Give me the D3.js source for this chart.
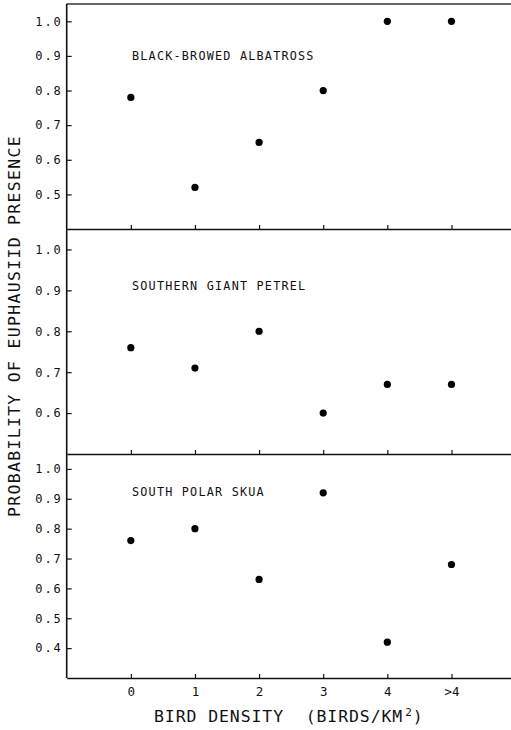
<!DOCTYPE html>
<html>
<head>
<meta charset="utf-8">
<script src="https://cdn.jsdelivr.net/npm/d3@7"></script>
<style>
  html, body { margin: 0; padding: 0; background: #fff; }
  svg { display: block; }
</style>
</head>
<body>
<svg id="chart" width="511" height="730"></svg>
<script>
// ---- data ----
const categories = ["0", "1", "2", "3", "4", ">4"];
const albatross = [0.78, 0.52, 0.65, 0.80, 1.00, 1.00];
const petrel    = [0.76, 0.71, 0.80, 0.60, 0.67, 0.67];
const skua      = [0.76, 0.80, 0.63, 0.92, 0.42, 0.68];
const albatrossTicks = [0.5, 0.6, 0.7, 0.8, 0.9, 1.0];
const petrelTicks    = [0.6, 0.7, 0.8, 0.9, 1.0];
const skuaTicks      = [0.4, 0.5, 0.6, 0.7, 0.8, 0.9, 1.0];
const speciesNames = ["BLACK-BROWED ALBATROSS", "SOUTHERN GIANT PETREL", "SOUTH POLAR SKUA"];
const yTitle = "PROBABILITY OF EUPHAUSIID PRESENCE";
const xTitleMain = "BIRD DENSITY  (BIRDS/KM";
const xTitleSup = "2";

// ---- layout ----
const FONT = "'DejaVu Sans Mono', 'Liberation Mono', monospace";
const INK = "#111";
const left = 66.7, right = 515.6;
const panels = [
  { name: speciesNames[0], values: albatross, ticks: albatrossTicks, domain: [0.4, 1.05], top: 4,   bottom: 229, labelY: 60 },
  { name: speciesNames[1], values: petrel,    ticks: petrelTicks,    domain: [0.5, 1.05], top: 229, bottom: 454, labelY: 290 },
  { name: speciesNames[2], values: skua,      ticks: skuaTicks,      domain: [0.3, 1.05], top: 454, bottom: 678, labelY: 496 }
];

const svg = d3.select("#chart");
const x = d3.scaleLinear().domain([-1, 6]).range([left, right]);
const idx = categories.map((c, i) => i);

panels.forEach((p, pi) => {
  const y = d3.scaleLinear().domain(p.domain).range([p.bottom, p.top]);
  const g = svg.append("g");

  // y axis
  const ya = g.append("g").attr("transform", `translate(${left},0)`)
    .call(d3.axisLeft(y).tickValues(p.ticks).tickFormat(d3.format(".1f"))
      .tickSizeInner(-5).tickSizeOuter(0).tickPadding(6));
  ya.select(".domain").remove();
  ya.selectAll(".tick line").attr("stroke", INK).attr("stroke-width", 1.2);
  ya.selectAll(".tick text").attr("font-family", FONT).attr("font-size", 12)
    .attr("fill", INK).attr("letter-spacing", 1.9).attr("x", -4);

  // x axis (bottom line of panel)
  const xa = g.append("g").attr("transform", `translate(0,${p.bottom})`)
    .call(d3.axisBottom(x).tickValues(idx)
      .tickFormat(pi === panels.length - 1 ? (i => categories[i]) : () => "")
      .tickSizeInner(-4).tickSizeOuter(0).tickPadding(9));
  xa.select(".domain").attr("stroke", INK).attr("stroke-width", 1.6);
  xa.selectAll(".tick line").attr("stroke", INK).attr("stroke-width", 1.2);
  xa.selectAll(".tick text").attr("font-family", FONT).attr("font-size", 12.5).attr("fill", INK);

  // panel label
  g.append("text").attr("x", 132).attr("y", p.labelY).text(p.name)
    .attr("font-family", FONT).attr("font-size", 11.8).attr("fill", INK)
    .attr("letter-spacing", 1.2);

  // points
  g.selectAll("circle").data(p.values).join("circle")
    .attr("cx", (d, i) => x(i)).attr("cy", d => y(d)).attr("r", 3.6).attr("fill", "#000");
});

// top border line
svg.append("line").attr("x1", left).attr("x2", 511).attr("y1", panels[0].top).attr("y2", panels[0].top)
  .attr("stroke", "#333").attr("stroke-width", 1.6);
// left axis line
svg.append("line").attr("x1", left).attr("x2", left).attr("y1", panels[0].top).attr("y2", panels[2].bottom)
  .attr("stroke", INK).attr("stroke-width", 1.6);

// y title
svg.append("text")
  .attr("transform", "translate(20,326) rotate(-90)")
  .attr("text-anchor", "middle")
  .attr("font-family", FONT).attr("font-size", 16.5).attr("fill", INK)
  .attr("letter-spacing", 1.3)
  .text(yTitle);

// x title
const xt = svg.append("text").attr("x", 154).attr("y", 722)
  .attr("font-family", FONT).attr("font-size", 16.5).attr("fill", INK)
  .attr("letter-spacing", 0.9).attr("xml:space", "preserve").style("white-space", "pre");
xt.append("tspan").text(xTitleMain);
xt.append("tspan").attr("font-size", 11).attr("dy", -6).attr("dx", 2).text(xTitleSup);
xt.append("tspan").attr("dy", 6).text(")");
</script>
</body>
</html>
